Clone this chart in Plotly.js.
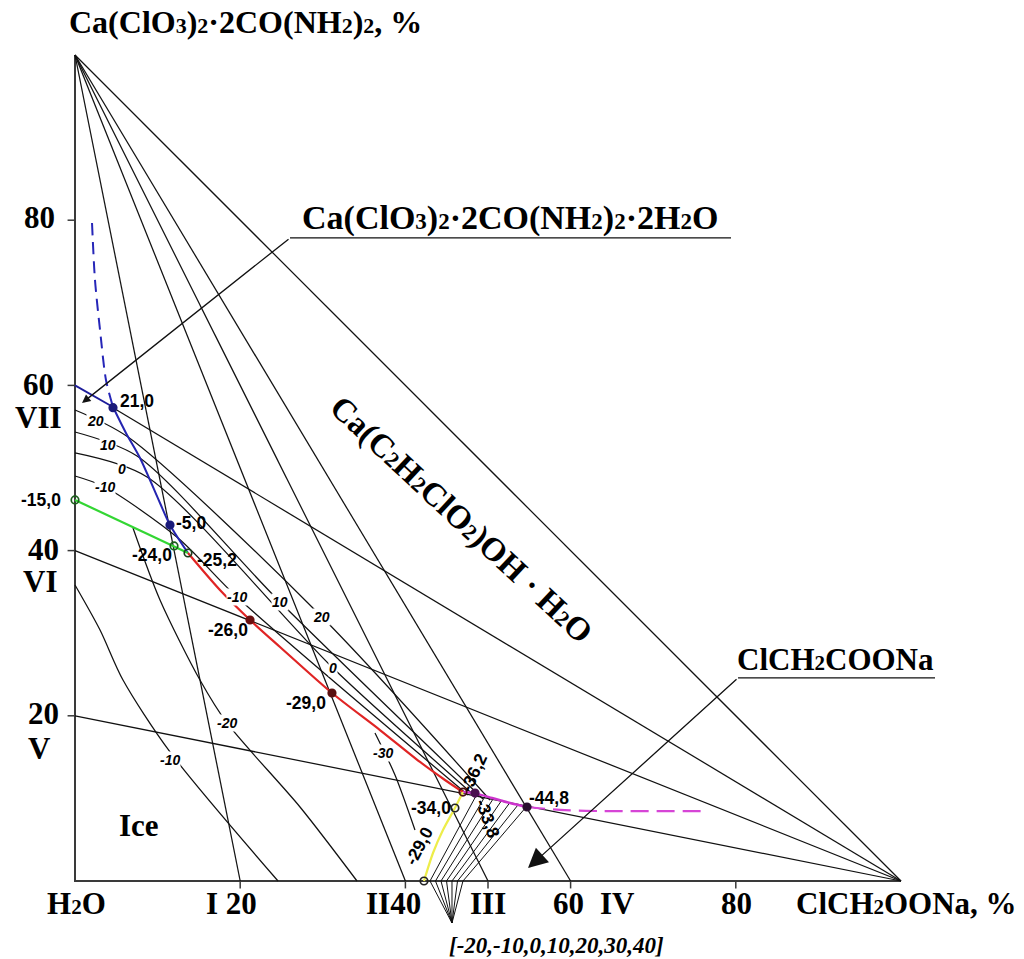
<!DOCTYPE html>
<html><head><meta charset="utf-8">
<script src="https://cdn.plot.ly/plotly-3.0.1.min.js"></script>
<style>html,body{margin:0;padding:0;background:#fff}#chart{width:1024px;height:959px}</style>
</head><body><div id="chart"></div>
<script>
// ---------- DATA (percent coordinates: x = ClCH2COONa %, y = Ca(ClO3)2·2CO(NH2)2 %) ----------
const frameX = [0, 0, 100];
const frameY = [100, 0, 0];
const hypX = [0, 100];
const hypY = [100, 0];
const leftTicks = [20, 40, 60, 80];
const baseTicks = [20, 40, 50, 60, 80];
const apexRayEnds = [20, 40, 50, 60];            // I, II, III, IV
const vertexRayStarts = [20, 40];                // V, VI (to ClCH2COONa vertex)
const rayVII_x = [4.6, 100];                     // VII, black part
const rayVII_y = [57.3, 0];

// crystallization curves
const blueDashX = [2.06, 2.42, 3.03, 3.75, 4.60];
const blueDashY = [79.66, 72.76, 66.71, 60.65, 57.38];
const blueTopX = [0, 4.60];
const blueTopY = [60, 57.38];
const blueX = [4.60, 6.17, 7.87, 10.29, 11.50, 13.68];
const blueY = [57.38, 54.24, 51.21, 45.76, 43.10, 39.71];
const greenX = [0, 11.99, 13.68];
const greenY = [46.13, 40.56, 39.71];
const redX = [13.68, 17.55, 21.19, 24.82, 31.11, 36.92, 41.77, 44.79, 46.97];
const redY = [39.71, 35.23, 31.60, 28.33, 22.76, 18.28, 14.41, 12.23, 10.77];
const magentaX = [46.97, 48.43, 50.50, 52.66, 54.72];
const magentaY = [10.77, 10.60, 10.05, 9.44, 8.96];
const magentaDashX = [54.72, 58.72, 63.56, 76.51];
const magentaDashY = [8.96, 8.60, 8.47, 8.47];
const yellowX = [42.25, 43.34, 44.55, 46.00, 46.97];
const yellowY = [0, 3.39, 6.17, 8.84, 10.77];

// isotherms (hydrate field continuing into Ca(C2H2ClO2)OH·H2O field)
const iso20X = [0, 6.42, 29.90, 50.24];
const iso20Y = [57.02, 53.75, 31.96, 9.81];
const iso10X = [0, 7.51, 24.82, 49.39];
const iso10Y = [54.36, 51.45, 33.78, 9.93];
const iso0X = [0, 8.72, 31.23, 48.55];
const iso0Y = [51.82, 48.91, 25.79, 10.17];
const isoM10X = [0, 3.63, 12.47, 19.61, 47.58];
const isoM10Y = [49.03, 47.70, 41.53, 34.38, 10.41];
// ice isotherms
const iceM10X = [0, 3.03, 5.81, 11.50, 24.58];
const iceM10Y = [35.84, 30.39, 24.33, 15.62, 0];
const iceM20X = [7.02, 10.29, 15.13, 18.40, 27.24, 34.14];
const iceM20Y = [42.74, 34.02, 24.33, 19.13, 8.96, 0];
const iceM30X = [36.32, 38.74, 41.16];
const iceM30Y = [17.92, 12.83, 6.17];
// ClCH2COONa field isotherm fan
const fanBaseX = [42.98, 43.64, 44.31, 44.98, 45.64, 46.31, 46.97];
const fanTopX = [48.67, 49.67, 50.69, 51.69, 52.70, 53.72, 54.72];
const fanTopY = [10.53, 10.29, 10.05, 9.81, 9.56, 9.32, 9.08];
const fanFocus = [45.64, -5.08];

// invariant points
const ptLabels = ['21,0', '-15,0', '-5,0', '-24,0', '-25,2', '-26,0', '-29,0', '-36,2', '-33,8', '-44,8', '-34,0', '-29,0'];
const ptX = [4.60, 0, 11.50, 11.99, 13.68, 21.19, 31.11, 46.97, 48.43, 54.72, 46.00, 42.25];
const ptY = [57.30, 46.13, 43.10, 40.56, 39.71, 31.60, 22.76, 10.77, 10.65, 8.96, 8.84, 0];
const ptFilled = [true, false, true, false, false, true, true, false, true, true, false, false];
const ptColor = ['#1a1a7a', '#1b5e1b', '#1a1a7a', '#1b5e1b', '#1b3d1b', '#6b1010', '#5a1010', '#4a1010', '#4a1050', '#2a1030', '#222', '#222'];
const ptLabX = [7.50, -4.12, 14.10, 9.35, 17.25, 18.52, 27.97, 48.25, 49.95, 57.40, 43.05, 41.65];
const ptLabY = [58.11, 46.13, 43.34, 39.47, 38.86, 30.39, 21.55, 13.08, 7.63, 10.05, 8.84, 4.24];
const ptLabAngle = [0, 0, 0, 0, 0, 0, 0, -65, 70, 0, 0, -62];

// isotherm labels
const isoLab = ['20', '10', '0', '-10', '-10', '10', '20', '0', '-10', '-20', '-30'];
const isoLabX = [2.54, 4.00, 5.69, 3.63, 19.61, 24.82, 29.90, 31.23, 11.50, 18.40, 37.29];
const isoLabY = [55.69, 52.78, 49.88, 47.70, 34.38, 33.78, 31.96, 25.79, 14.65, 19.13, 15.50];

// leaders
const leadHydX = [79.42, 26.03, 0.85];
const leadHydY = [77.85, 77.85, 57.87];
const leadSaltX = [104.12, 80.27, 54.84];
const leadSaltY = [24.58, 24.58, 1.57];

// tick label texts
const leftLabels = ['80', '60', 'VII', '40', 'VI', '20', 'V'];
const leftLabX = [-4.24, -4.48, -4.48, -3.87, -4.24, -3.87, -4.24];
const leftLabY = [80.27, 60.05, 56.17, 40.19, 36.2, 20.22, 16.10];
const baseLabels = ['H{2}O', 'I 20', 'II40', 'III', '60', 'IV', '80', 'ClCH{2}OONa, %'];
const baseLabX = [0.24, 19.0, 38.6, 50.0, 59.7, 65.7, 80.1, 100.7];
const baseLabY = -2.78;

// ---------- BUILD ----------
const traces = [];
const black = {color: '#111', width: 1.25};
function L(x, y, line, shape) {
  const ln = Object.assign({}, line);
  if (shape) { ln.shape = shape; ln.smoothing = 0.8; }
  traces.push({type: 'scatter', mode: 'lines', x: x, y: y, line: ln, hoverinfo: 'skip'});
}
// formula helper: {n} -> small baseline subscript
function F(s, size) {
  return s.replace(/\{([^}]*)\}/g, (m, d) => '<span style="font-size:' + Math.round(size * 0.68) + 'px">' + d + '</span>');
}
// frame
L(frameX, frameY, {color: '#3a3a3a', width: 2});
L(hypX, hypY, black);
leftTicks.forEach(v => L([-0.9, 0], [v, v], {color: '#3a3a3a', width: 1.5}));
baseTicks.forEach(v => L([v, v], [0, -0.9], {color: '#3a3a3a', width: 1.5}));
apexRayEnds.forEach(v => L([0, v], [100, 0], black));
vertexRayStarts.forEach(v => L([0, 100], [v, 0], black));
L(rayVII_x, rayVII_y, black);
// isotherms
[[iso20X, iso20Y], [iso10X, iso10Y], [iso0X, iso0Y], [isoM10X, isoM10Y],
 [iceM10X, iceM10Y], [iceM20X, iceM20Y], [iceM30X, iceM30Y]].forEach(p => L(p[0], p[1], black, 'spline'));
// fan
fanBaseX.forEach((bx, i) => {
  L([fanFocus[0], bx, fanTopX[i]], [fanFocus[1], 0, fanTopY[i]], {color: '#111', width: 1});
});
// coloured curves
L(blueDashX, blueDashY, {color: '#2626b8', width: 2, dash: '12px,7px'}, 'spline');
L(blueTopX, blueTopY, {color: '#1c1c9a', width: 1.8});
L(blueX, blueY, {color: '#2424b0', width: 2}, 'spline');
L(greenX, greenY, {color: '#33d633', width: 2.2});
L(redX, redY, {color: '#e02424', width: 2.2}, 'spline');
L(magentaX, magentaY, {color: '#cc33cc', width: 2.4}, 'spline');
L(magentaDashX, magentaDashY, {color: '#d645d6', width: 2.2, dash: '18px,8px'}, 'spline');
L(yellowX, yellowY, {color: '#eded4a', width: 2.2}, 'spline');
// leaders
L(leadHydX.slice(0, 2), leadHydY.slice(0, 2), black);
L(leadSaltX.slice(0, 2), leadSaltY.slice(0, 2), black);
// points
traces.push({type: 'scatter', mode: 'markers', x: ptX, y: ptY, hoverinfo: 'skip',
  marker: {size: 7.5, symbol: ptFilled.map(f => f ? 'circle' : 'circle-open'),
           color: ptColor, line: {color: ptColor, width: 1.7}}});

const ann = [];
const serif = 'Liberation Serif, Times New Roman, serif';
const sans = 'Liberation Sans, Arial, sans-serif';
function T(text, x, y, font, extra) {
  ann.push(Object.assign({text: text, x: x, y: y, xref: 'x', yref: 'y', showarrow: false,
    xanchor: 'center', yanchor: 'middle', font: font}, extra || {}));
}
const bigFont = {family: serif, size: 31, color: '#000', weight: 'bold'};
T(F('Ca(ClO{3}){2}·2CO(NH{2}){2}, %', 32), 20.70, 104.0, {family: serif, size: 32, color: '#000', weight: 'bold'});
T(F('Ca(ClO{3}){2}·2CO(NH{2}){2}·2H{2}O', 34), 52.66, 80.27, {family: serif, size: 34, color: '#000', weight: 'bold'});
T(F('ClCH{2}COONa', 31), 92.13, 26.76, {family: serif, size: 31, color: '#000', weight: 'bold'});
T(F('Ca(C{2}H{2}ClO{2})OH · H{2}O', 33), 46.85, 43.70, {family: serif, size: 33, color: '#000', weight: 'bold'}, {textangle: 43});
T('Ice', 7.75, 6.78, {family: serif, size: 31, color: '#000', weight: 'bold'});
leftLabels.forEach((t, i) => T(t, leftLabX[i], leftLabY[i], bigFont));
baseLabels.forEach((t, i) => T(F(t, 31), baseLabX[i], baseLabY, bigFont));
T('[-20,-10,0,10,20,30,40]', 58.35, -7.75, {family: serif, size: 23, color: '#000', style: 'italic', weight: 'bold'});
ptLabels.forEach((t, i) => T(t, ptLabX[i], ptLabY[i], {family: sans, size: 17.5, color: '#000', weight: 'bold'}, {textangle: ptLabAngle[i]}));
isoLab.forEach((t, i) => T(t, isoLabX[i], isoLabY[i], {family: sans, size: 14, color: '#000', weight: 'bold', style: 'italic'}, {bgcolor: '#fff', borderpad: 0}));
// arrows
ann.push({x: leadHydX[2], y: leadHydY[2], ax: leadHydX[1], ay: leadHydY[1], xref: 'x', yref: 'y', axref: 'x', ayref: 'y',
  text: '', showarrow: true, arrowhead: 2, arrowsize: 1.3, arrowwidth: 1.3, arrowcolor: '#111'});
ann.push({x: leadSaltX[2], y: leadSaltY[2], ax: leadSaltX[1], ay: leadSaltY[1], xref: 'x', yref: 'y', axref: 'x', ayref: 'y',
  text: '', showarrow: true, arrowhead: 2, arrowsize: 3, arrowwidth: 1.3, arrowcolor: '#111'});

const S = 8.26;
const layout = {
  width: 1024, height: 959, margin: {l: 0, r: 0, t: 0, b: 0},
  paper_bgcolor: '#fff', plot_bgcolor: '#fff', showlegend: false,
  xaxis: {range: [-75 / S, 949 / S], visible: false, fixedrange: true},
  yaxis: {range: [-78 / S, 881 / S], visible: false, fixedrange: true},
  annotations: ann
};
Plotly.newPlot('chart', traces, layout, {displayModeBar: false, staticPlot: true});
</script></body></html>
